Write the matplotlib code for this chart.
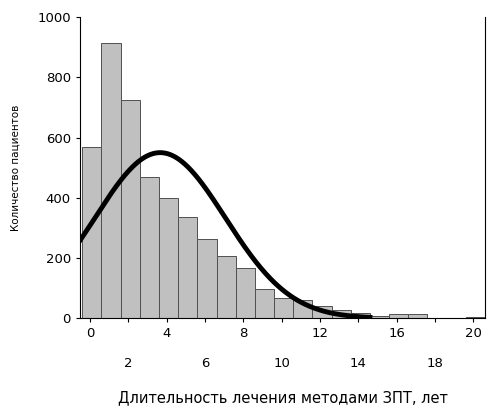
import numpy as np
import matplotlib.pyplot as plt

# histogram counts, bins of width 1 (left edges start at -0.4)
counts = [568, 914, 724, 468, 399, 335, 262, 206, 166, 96, 66, 60,
          40, 28, 18, 8, 15, 14, 2, 0, 3]
bin_left = -0.4

# fitted normal curve parameters
curve_mean = 3.66
curve_sd = 3.4
curve_peak = 550
curve_range = (-0.5, 14.6)

fig = plt.figure(figsize=(5, 4.07), dpi=100)
ax = fig.add_axes([0.16, 0.218, 0.81, 0.74])

edges = bin_left + np.arange(len(counts))
ax.bar(edges, counts, width=1, align='edge', color='#c0c0c0',
       edgecolor='#505050', linewidth=0.7)

xs = np.linspace(*curve_range, 300)
ys = curve_peak * np.exp(-(xs - curve_mean) ** 2 / (2 * curve_sd ** 2))
ax.plot(xs, ys, color='black', linewidth=3.5)

ax.set_xlim(-0.52, 20.6)
ax.set_ylim(0, 1000)
ax.set_yticks([0, 200, 400, 600, 800, 1000])
ax.set_xticks(range(0, 21, 2))
ax.set_xticklabels([str(v) if v % 4 == 0 else '\n\n' + str(v) for v in range(0, 21, 2)])
ax.tick_params(labelsize=9.5, length=3)
ax.spines['top'].set_visible(False)
ax.spines['bottom'].set_position(('outward', 0))
ax.set_ylabel('Количество пациентов', fontsize=7.5, labelpad=12)
ax.set_xlabel('Длительность лечения методами ЗПТ, лет', fontsize=10.5, labelpad=14)

fig.savefig('out.png', dpi=100)
